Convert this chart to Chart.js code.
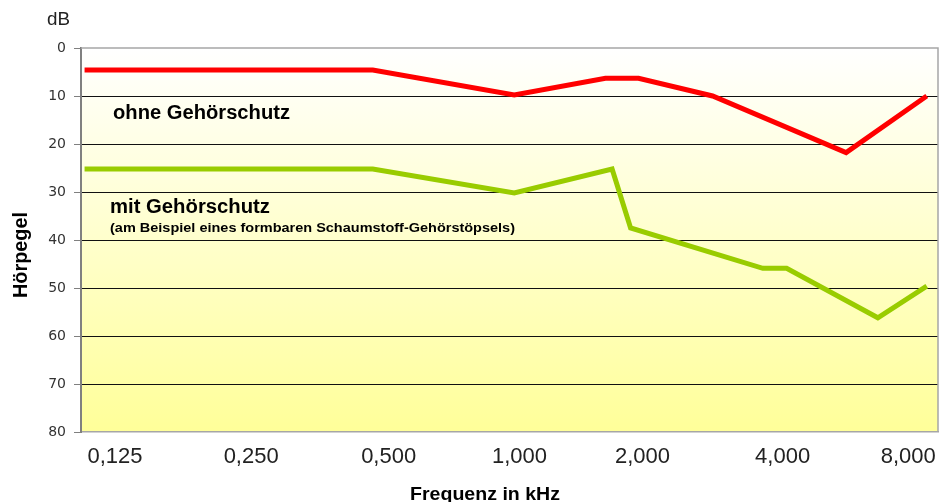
<!DOCTYPE html>
<html>
<head>
<meta charset="utf-8">
<script src="https://cdn.jsdelivr.net/npm/chart.js@4/dist/chart.umd.min.js"></script>
<style>
  html, body { margin: 0; padding: 0; background: #fff; }
  #wrap { width: 943px; height: 502px; position: relative; }
</style>
</head>
<body>
<div id="wrap"><canvas id="chart"></canvas></div>
<script>
// x in octaves above 0,125 kHz (0 = 0,125 ... 6 = 8,000)
const tickLabels = ['0,125', '0,250', '0,500', '1,000', '2,000', '4,000', '8,000'];
const tickPos = [0, 1.03, 2.07, 3.06, 3.99, 5.05, 6];

const ohneX = [-0.23, 1.95, 3.02, 3.71, 3.96, 4.52, 5.53, 6.14];
const ohneY = [4.6, 4.6, 9.8, 6.3, 6.3, 10, 21.8, 10];

const mitX = [-0.23, 1.95, 3.02, 3.76, 3.9, 4.9, 5.08, 5.77, 6.14];
const mitY = [25.2, 25.2, 30.2, 25.2, 37.5, 45.9, 45.9, 56.2, 49.6];

const toPoints = (xs, ys) => xs.map((x, i) => ({ x: x, y: ys[i] }));

const FONT = "'Liberation Sans', Arial, sans-serif";
const WIDE = "'DejaVu Sans', Verdana, sans-serif";

// draw text squeezed/stretched to a given width
function fitText(ctx, text, x, y, w) {
    const m = ctx.measureText(text).width;
    ctx.save();
    ctx.translate(x, y);
    ctx.scale(w / m, 1);
    ctx.fillText(text, 0, 0);
    ctx.restore();
}

const decor = {
    id: 'decor',
    beforeDraw(chart) {
        const { ctx, chartArea: a } = chart;
        const g = ctx.createLinearGradient(0, a.top, 0, a.bottom);
        g.addColorStop(0, '#ffffff');
        g.addColorStop(1, '#ffff99');
        ctx.save();
        ctx.fillStyle = g;
        ctx.fillRect(a.left, a.top, a.right - a.left, a.bottom - a.top);
        ctx.restore();
    },
    afterDraw(chart) {
        const { ctx, chartArea: a } = chart;
        ctx.save();
        // top / right frame
        ctx.strokeStyle = '#a6a6a6';
        ctx.lineWidth = 1.5;
        ctx.beginPath();
        ctx.moveTo(a.left, a.top);
        ctx.lineTo(a.right, a.top);
        ctx.lineTo(a.right, a.bottom);
        ctx.stroke();

        ctx.fillStyle = '#222';
        ctx.textBaseline = 'middle';
        ctx.textAlign = 'left';
        ctx.font = '18px ' + FONT;
        fitText(ctx, 'dB', 47, 20, 23);

        ctx.fillStyle = '#000';
        ctx.font = 'bold 20px ' + FONT;
        fitText(ctx, 'ohne Gehörschutz', 113, 113, 177);
        fitText(ctx, 'mit Gehörschutz', 110, 207, 160);
        ctx.font = 'bold 12.5px ' + FONT;
        fitText(ctx, '(am Beispiel eines formbaren Schaumstoff-Gehörstöpsels)', 110, 229, 405);

        ctx.textBaseline = 'alphabetic';
        ctx.font = 'bold 19px ' + FONT;
        fitText(ctx, 'Frequenz in kHz', 410, 500, 150);

        ctx.translate(27, 298);
        ctx.rotate(-Math.PI / 2);
        ctx.font = 'bold 20px ' + FONT;
        fitText(ctx, 'Hörpegel', 0, 0, 86);
        ctx.restore();
    }
};

new Chart(document.getElementById('chart'), {
    type: 'line',
    data: {
        datasets: [
            {
                label: 'ohne Gehörschutz',
                data: toPoints(ohneX, ohneY),
                borderColor: '#ff0000',
                borderWidth: 5,
                pointRadius: 0,
                tension: 0
            },
            {
                label: 'mit Gehörschutz',
                data: toPoints(mitX, mitY),
                borderColor: '#99cc00',
                borderWidth: 5,
                pointRadius: 0,
                tension: 0
            }
        ]
    },
    options: {
        responsive: true,
        maintainAspectRatio: false,
        animation: false,
        layout: { padding: { top: 48, right: 5, left: 0, bottom: 0 } },
        plugins: { legend: { display: false }, tooltip: { enabled: false } },
        scales: {
            x: {
                type: 'linear',
                min: -0.257,
                max: 6.225,
                afterFit: s => { s.height = 70; s.paddingLeft = 0; s.paddingRight = 0; },
                afterBuildTicks: s => { s.ticks = tickPos.map(v => ({ value: v })); },
                grid: { display: false },
                border: { display: true, color: '#a6a6a6', width: 1.5 },
                ticks: {
                    autoSkip: false,
                    maxRotation: 0,
                    padding: 4,
                    color: '#222',
                    font: { family: FONT, size: 22 },
                    callback: (v, i) => tickLabels[i]
                }
            },
            y: {
                reverse: true,
                min: 0,
                max: 80,
                afterFit: s => { s.width = 81; s.paddingTop = 0; s.paddingBottom = 0; },
                grid: {
                    color: c => (c.tick && (c.tick.value === 0 || c.tick.value === 80)) ? 'rgba(0,0,0,0)' : '#111',
                    lineWidth: 1,
                    tickColor: '#808080',
                    tickLength: 7
                },
                border: { display: true, color: '#808080', width: 2 },
                ticks: {
                    stepSize: 10,
                    padding: 8,
                    color: '#333',
                    font: { family: WIDE, size: 14 }
                }
            }
        }
    },
    plugins: [decor]
});
</script>
</body>
</html>
